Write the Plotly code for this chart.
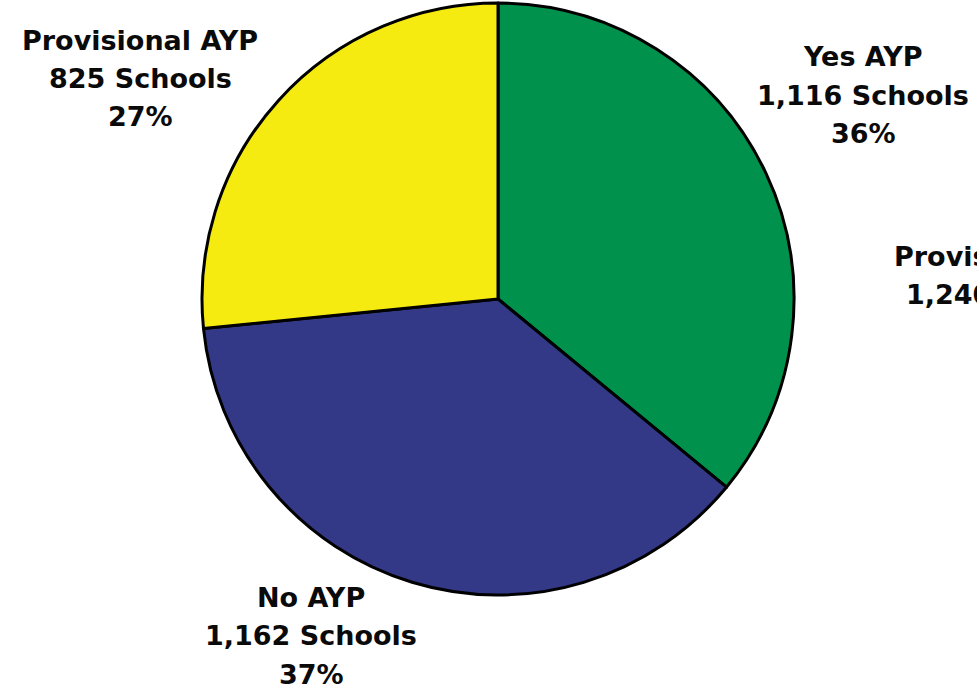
import plotly.graph_objects as go

# ---- data ----
categories = ["Yes AYP", "No AYP", "Provisional AYP"]
schools = [1116, 1162, 825]
percents = ["36%", "37%", "27%"]
colors = ["#00924c", "#333887", "#f6eb10"]

# label of the neighbouring (cut-off) chart
next_category = "Provisional AYP"
next_schools = 1240

W, H = 977, 691

fig = go.Figure(go.Pie(
    labels=categories,
    values=schools,
    sort=False,
    direction="clockwise",
    rotation=0,
    textinfo="none",
    hoverinfo="label+value+percent",
    marker=dict(colors=colors, line=dict(color="#000000", width=3)),
    domain=dict(x=[202 / W, 794 / W], y=[1 - 595 / H, 1 - 3 / H]),
    showlegend=False,
))

# label block centres (px): x, first-line y, line step
label_pos = [(863, 57), (311, 597), (140, 40)]
step = 38.5
font = dict(family="DejaVu Sans", size=27, color="#0a0a0a", weight="bold")

anns = []
for cat, n, pct, (cx, cy) in zip(categories, schools, percents, label_pos):
    lines = [cat, f"{n:,} Schools", pct]
    for i, t in enumerate(lines):
        anns.append(dict(text=t, x=cx / W, y=1 - (cy + i * step) / H,
                         xref="paper", yref="paper", xanchor="center",
                         yanchor="middle", showarrow=False, font=font))

for i, t in enumerate([next_category, f"{next_schools:,} Schools"]):
    anns.append(dict(text=t, x=1012 / W, y=1 - (256 + i * step) / H,
                     xref="paper", yref="paper", xanchor="center",
                     yanchor="middle", showarrow=False, font=font))

fig.update_layout(
    width=W, height=H,
    margin=dict(l=0, r=0, t=0, b=0),
    paper_bgcolor="white", plot_bgcolor="white",
    annotations=anns,
)

fig.write_html("out.html", config={"displayModeBar": False},
               post_script="document.body.style.margin='0';")
